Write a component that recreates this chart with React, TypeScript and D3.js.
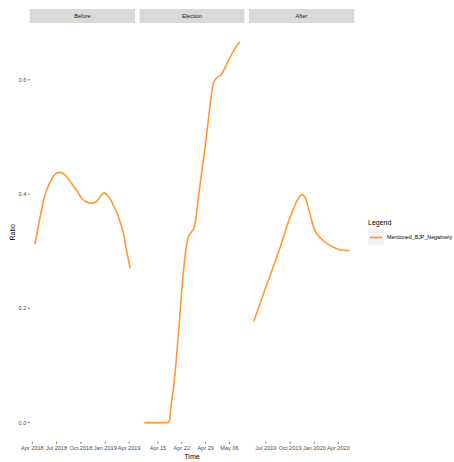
import React from "react";
import * as d3 from "d3";

// ---- data ----
const facets = ["Before", "Election", "After"];

const beforeDates = [
  "2018-04-10", "2018-04-28", "2018-05-17", "2018-06-05", "2018-06-24", "2018-07-13",
  "2018-08-01", "2018-08-26", "2018-09-14", "2018-10-03", "2018-10-22", "2018-11-10",
  "2018-11-29", "2018-12-15", "2018-12-28", "2019-01-12", "2019-01-31", "2019-02-19",
  "2019-03-10", "2019-03-22", "2019-04-05",
];
const beforeValues = [
  0.312, 0.355, 0.396, 0.419, 0.434, 0.438,
  0.434, 0.419, 0.407, 0.393, 0.386, 0.384,
  0.387, 0.397, 0.402, 0.396, 0.381, 0.361,
  0.332, 0.302, 0.27,
];

const electionDates = [
  "2019-04-11T00:00", "2019-04-14T12:00", "2019-04-18T00:00", "2019-04-18T10:00",
  "2019-04-18T20:00", "2019-04-19T15:00", "2019-04-20T13:00", "2019-04-21T08:00",
  "2019-04-22T02:00", "2019-04-23T02:00", "2019-04-24T00:00", "2019-04-24T18:00",
  "2019-04-25T06:00", "2019-04-25T14:00", "2019-04-26T05:00", "2019-04-27T00:00",
  "2019-04-28T00:00", "2019-04-29T00:00", "2019-04-30T00:00", "2019-04-30T17:00",
  "2019-05-01T07:00", "2019-05-01T22:00", "2019-05-03T14:00", "2019-05-05T14:00",
  "2019-05-07T14:00", "2019-05-09T00:00",
];
const electionValues = [
  0, 0, 0, 0.004,
  0.028, 0.063, 0.121, 0.18,
  0.238, 0.297, 0.326, 0.333,
  0.337, 0.34, 0.36, 0.4,
  0.445, 0.49, 0.54, 0.575,
  0.594, 0.601, 0.609, 0.632,
  0.655, 0.666,
];

const afterDates = [
  "2019-05-16", "2019-06-27", "2019-07-29", "2019-08-23", "2019-09-18", "2019-10-14",
  "2019-11-02", "2019-11-15", "2019-11-28", "2019-12-13", "2019-12-30", "2020-01-31",
  "2020-03-09", "2020-04-10", "2020-05-12",
];
const afterValues = [
  0.177, 0.232, 0.273, 0.305, 0.343, 0.375,
  0.393, 0.399, 0.393, 0.369, 0.34, 0.32,
  0.308, 0.302, 0.301,
];

const beforeTicks = ["2018-04-01", "2018-07-01", "2018-10-01", "2019-01-01", "2019-04-01"];
const electionTicks = ["2019-04-15", "2019-04-22", "2019-04-29", "2019-05-06"];
const afterTicks = ["2019-07-01", "2019-10-01", "2020-01-01", "2020-04-01"];

const yTicks = [0, 0.2, 0.4, 0.6];
const seriesName = "Mentioned_BJP_Negatively";

// ---- layout ----
const W = 454;
const H = 462;
const panelTop = 23;
const panelBottom = 441.7;
const stripH = 14;
const panelW = 105;
const panelGap = 4.5;
const panelLeft = 30;
const lineColor = "#FF9933";
const font = "'Liberation Sans', Arial, Helvetica, sans-serif";

const parse = (s: string) => new Date(s + (s.length === 10 ? "T00:00" : ""));

type Facet = {
  name: string;
  points: { t: Date; v: number }[];
  ticks: Date[];
  tickFormat: (d: Date) => string;
};

const monthYear = d3.timeFormat("%b %Y");
const monthDay = d3.timeFormat("%b %d");

const facetData: Facet[] = [
  {
    name: facets[0],
    points: beforeDates.map((d, i) => ({ t: parse(d), v: beforeValues[i] })),
    ticks: beforeTicks.map(parse),
    tickFormat: monthYear,
  },
  {
    name: facets[1],
    points: electionDates.map((d, i) => ({ t: parse(d), v: electionValues[i] })),
    ticks: electionTicks.map(parse),
    tickFormat: monthDay,
  },
  {
    name: facets[2],
    points: afterDates.map((d, i) => ({ t: parse(d), v: afterValues[i] })),
    ticks: afterTicks.map(parse),
    tickFormat: monthYear,
  },
];

// expand a continuous range by 5% on each side
const expand = (lo: number, hi: number) => {
  const pad = (hi - lo) * 0.05;
  return [lo - pad, hi + pad];
};

const allValues = [...beforeValues, ...electionValues, ...afterValues];
const [yLo, yHi] = expand(d3.min(allValues)!, d3.max(allValues)!);
const y = d3.scaleLinear().domain([yLo, yHi]).range([panelBottom, panelTop]);

export default function App() {
  const panelsRight = panelLeft + 3 * panelW + 2 * panelGap;
  return (
    <svg
      width={W}
      height={H}
      style={{ position: "absolute", left: 0, top: 0, background: "#fff" }}
      fontFamily={font}
    >
      <rect x={0} y={0} width={W} height={H} fill="#fff" />

      {facetData.map((f, i) => {
        const x0 = panelLeft + i * (panelW + panelGap);
        const ext = d3.extent(f.points, (p) => +p.t) as [number, number];
        const [dLo, dHi] = expand(ext[0], ext[1]);
        const x = d3.scaleTime().domain([new Date(dLo), new Date(dHi)]).range([x0, x0 + panelW]);
        const line = d3
          .line<{ t: Date; v: number }>()
          .x((p) => x(p.t))
          .y((p) => y(p.v))
          .curve(d3.curveMonotoneX);
        return (
          <g key={f.name}>
            {/* strip */}
            <rect x={x0} y={panelTop - stripH} width={panelW} height={stripH} fill="#D9D9D9" />
            <text
              x={x0 + panelW / 2}
              y={panelTop - stripH / 2}
              dy="0.35em"
              textAnchor="middle"
              fontSize={5.6}
              fill="#1A1A1A"
            >
              {f.name}
            </text>
            {/* series */}
            <path d={line(f.points) || ""} fill="none" stroke={lineColor} strokeWidth={1.6} />
            {/* x axis */}
            {f.ticks.map((t) => (
              <g key={+t}>
                <line x1={x(t)} x2={x(t)} y1={panelBottom} y2={panelBottom + 2.2} stroke="#333" strokeWidth={0.6} />
                <text x={x(t)} y={panelBottom + 8.2} textAnchor="middle" fontSize={5.6} fill="#4D4D4D">
                  {f.tickFormat(t)}
                </text>
              </g>
            ))}
          </g>
        );
      })}

      {/* y axis */}
      {yTicks.map((v) => (
        <g key={v}>
          <line x1={panelLeft - 2.2} x2={panelLeft} y1={y(v)} y2={y(v)} stroke="#333" strokeWidth={0.6} />
          <text x={panelLeft - 3.6} y={y(v)} dy="0.35em" textAnchor="end" fontSize={5.6} fill="#4D4D4D">
            {v.toFixed(1)}
          </text>
        </g>
      ))}

      {/* axis titles */}
      <text x={(panelLeft + panelsRight) / 2} y={458.5} textAnchor="middle" fontSize={7} fill="#000">
        Time
      </text>
      <text
        transform={`translate(14.5, ${(panelTop + panelBottom) / 2}) rotate(-90)`}
        textAnchor="middle"
        fontSize={7}
        fill="#000"
      >
        Ratio
      </text>

      {/* legend */}
      <text x={368} y={225} fontSize={7} fill="#000">
        Legend
      </text>
      <rect x={368} y={229.5} width={16} height={16} fill="#F2F2F2" />
      <line x1={369.6} x2={382.4} y1={237.5} y2={237.5} stroke={lineColor} strokeWidth={1.6} />
      <text x={387} y={237.5} dy="0.35em" fontSize={5.3} fill="#000">
        {seriesName}
      </text>
    </svg>
  );
}
